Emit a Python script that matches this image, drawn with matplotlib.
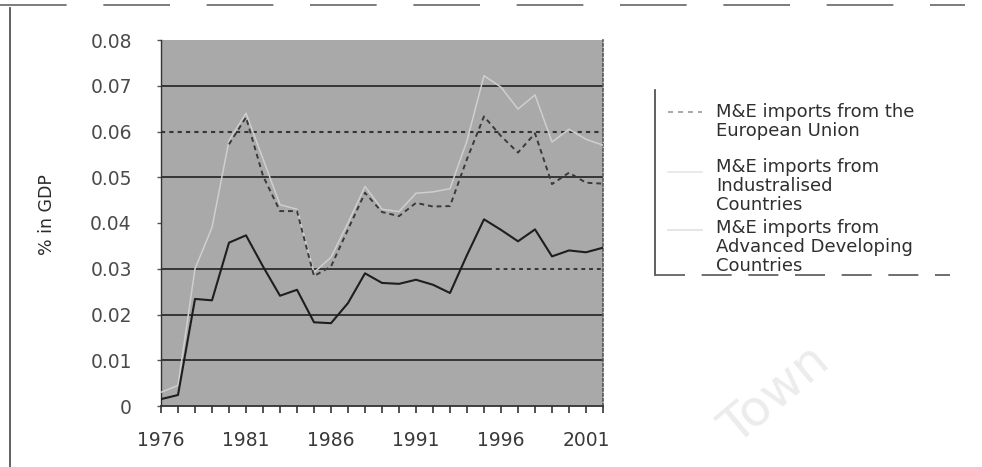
import numpy as np
import matplotlib
matplotlib.use("Agg")
import matplotlib.pyplot as plt
from matplotlib.lines import Line2D

plt.rcParams['font.family'] = ['DejaVu Sans']

nan = np.nan
years = list(range(1976, 2003))
tick_years = [1976, 1981, 1986, 1991, 1996, 2001]
y_ticks = [0, 0.01, 0.02, 0.03, 0.04, 0.05, 0.06, 0.07, 0.08]
y_tick_labels = ["0", "0.01", "0.02", "0.03", "0.04", "0.05", "0.06", "0.07", "0.08"]

eu_imports = [nan, nan, nan, nan, 0.0572, 0.0631, 0.0503, 0.0426, 0.0426, 0.0284,
              0.0305, 0.0386, 0.0466, 0.0424, 0.0415, 0.0444, 0.0436, 0.0437,
              0.0540, 0.0633, 0.0590, 0.0554, 0.0596, 0.0485, 0.0510, 0.0488, 0.0486]
industrialised_imports = [0.0030, 0.0045, 0.0300, 0.0390, 0.0580, 0.0640, 0.0540, 0.0440,
                          0.0430, 0.0292, 0.0325, 0.0400, 0.0480, 0.0430, 0.0425, 0.0465,
                          0.0468, 0.0475, 0.0580, 0.0722, 0.0697, 0.0649, 0.0680, 0.0577,
                          0.0605, 0.0583, 0.0570]
adc_imports = [0.0015, 0.0024, 0.0234, 0.0231, 0.0357, 0.0373, 0.0305, 0.0241, 0.0254,
               0.0183, 0.0181, 0.0225, 0.0290, 0.0269, 0.0267, 0.0276, 0.0265, 0.0247,
               0.0330, 0.0408, 0.0385, 0.0360, 0.0386, 0.0327, 0.0340, 0.0336, 0.0346]

legend_labels = [
    "M&E imports from the\nEuropean Union",
    "M&E imports from\nIndustralised\nCountries",
    "M&E imports from\nAdvanced Developing\nCountries",
]

W, H = 982, 467
fig = plt.figure(figsize=(W / 100, H / 100), dpi=100)
fig.patch.set_facecolor("white")

ax = fig.add_axes([161 / W, 1 - 406 / H, 442 / W, 366 / H])
ax.set_facecolor("#a9a9a9")

# horizontal rules
grid_c = "#353535"
for v in [0.01, 0.02, 0.05, 0.07]:
    ax.axhline(v, color=grid_c, lw=1.4, zorder=1)
ax.axhline(0.03, xmin=0, xmax=0.74, color=grid_c, lw=1.4, zorder=1)
ax.axhline(0.03, xmin=0.74, xmax=1, color=grid_c, lw=1.4, ls=(0, (2, 2)), zorder=1)
ax.axhline(0.06, color=grid_c, lw=1.5, ls=(0, (2, 2)), zorder=1)

ax.plot(years, industrialised_imports, color="#cfcfcf", lw=1.1, zorder=3)
ax.plot(years, eu_imports, color="#3a3a3a", lw=1.4, ls=(0, (2.5, 2)), zorder=4)
ax.plot(years, adc_imports, color="#1e1e1e", lw=1.5, zorder=5)

ax.set_xlim(1976, 2002)
ax.set_ylim(0, 0.08)
ax.set_xticks(tick_years)
ax.set_xticklabels([str(y) for y in tick_years])
ax.set_xticks(years, minor=True)
ax.set_yticks(y_ticks)
ax.set_yticklabels(y_tick_labels)

ax.tick_params(axis="x", which="both", direction="out", length=5, width=1.2,
               color="#333333", pad=13, labelsize=13.5, labelcolor="#3a3a3a")
ax.tick_params(axis="y", which="both", direction="out", length=3, width=1,
               color="#555555", pad=18, labelsize=13.5, labelcolor="#4a4a4a")

ax.spines["top"].set_visible(False)
ax.spines["left"].set_color("#333333")
ax.spines["left"].set_linewidth(1.0)
ax.spines["bottom"].set_color("#333333")
ax.spines["bottom"].set_linewidth(1.3)
ax.spines["right"].set_color("#555555")
ax.spines["right"].set_linestyle((0, (1.5, 1.5)))
ax.spines["right"].set_linewidth(1.2)

fig.text(47 / W, 1 - 215 / H, "% in GDP", rotation=90, ha="center", va="center",
         fontsize=12.5, color="#2a2a2a")

# outer frame
fig.add_artist(Line2D([10 / W, 10 / W], [0, 1 - 8 / H], color="#555555", lw=1.3))
fig.add_artist(Line2D([0, 965 / W], [1 - 5 / H, 1 - 5 / H], color="#666666", lw=1.2,
                      ls=(0, (40, 22))))

# legend box
fig.add_artist(Line2D([655 / W, 655 / W], [1 - 90 / H, 1 - 275 / H], color="#444444", lw=1.2))
fig.add_artist(Line2D([655 / W, 950 / W], [1 - 275 / H, 1 - 275 / H], color="#555555", lw=1.2,
                      ls=(0, (18, 10))))

sample_y = [112, 172, 230]
sample_style = [("#9a9a9a", (0, (3, 3))), ("#e6e6e6", "-"), ("#e0e0e0", "-")]
for sy, (c, ls) in zip(sample_y, sample_style):
    fig.add_artist(Line2D([668 / W, 702 / W], [1 - sy / H, 1 - sy / H], color=c, lw=1.2, ls=ls))

text_tops = [103, 158, 219]
for top, lab in zip(text_tops, legend_labels):
    fig.text(716 / W, 1 - top / H, lab, ha="left", va="top", fontsize=13,
             color="#2f2f2f", linespacing=1.08)

fig.text(775 / W, 1 - 395 / H, "Town", rotation=40, ha="center", va="center",
         fontsize=36, color="#ececec", zorder=0)

fig.savefig("out.png", dpi=100)
